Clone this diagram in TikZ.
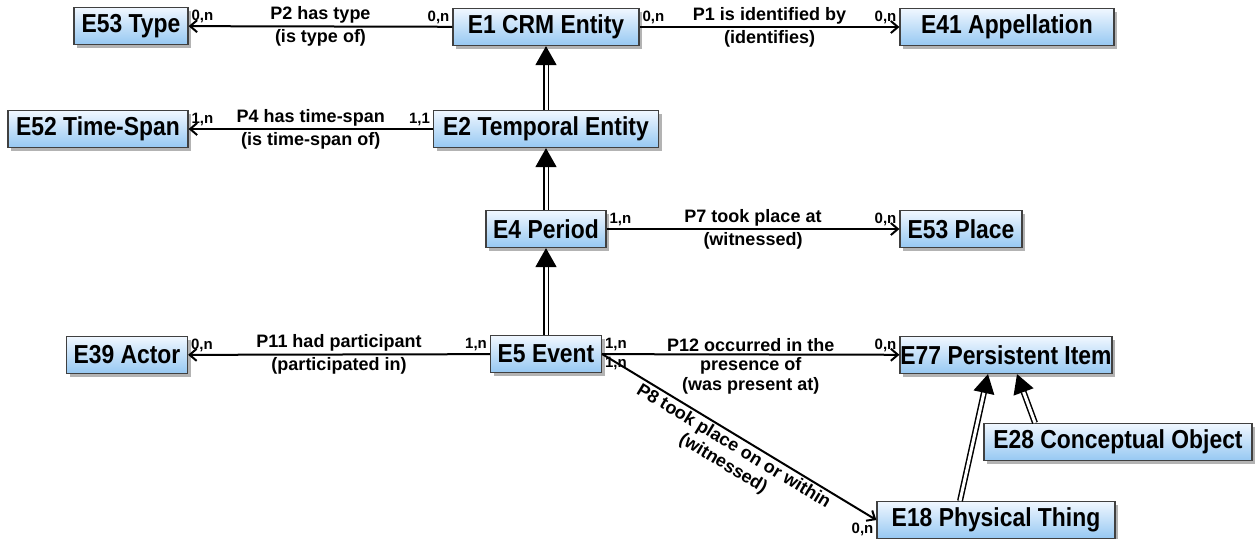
\documentclass[tikz,border=0pt]{standalone}
\usepackage{fontspec}
\setmainfont{Liberation Sans}
\newfontfamily\clsfont[FakeStretch=0.88]{Liberation Sans}
\usetikzlibrary{arrows.meta}
\usetikzlibrary{shadows}
\definecolor{boxblue}{RGB}{150,200,242}
\definecolor{boxtop}{RGB}{240,247,255}

\begin{document}
\begin{tikzpicture}[x=0.5pt,y=-0.5pt,
		cls/.style = {draw=black!75, line width=0.6pt, top color=boxtop, bottom color=boxblue, drop shadow={shadow xshift=1.5pt,shadow yshift=-1.5pt,fill=black!50,opacity=0.6}, minimum height=18.5pt, inner sep=0pt, font=\clsfont\fontsize{13}{14}\selectfont\bfseries},
		rel/.style = {line width=1pt, -{Straight Barb[length=3.5pt,width=6pt]}},
		isa/.style = {double, double distance=1.5pt, line width=0.75pt, -{Triangle[length=9.5pt,width=10.5pt]}},
		lbl/.style = {font=\fontsize{9}{10}\selectfont\bfseries, inner sep=1pt, align=center},
		card/.style = {font=\fontsize{7.5}{8}\selectfont\bfseries, inner sep=1pt}]
	\useasboundingbox (0,0) rectangle (1258,538);
	\begin{scope}[every node/.style={cls}]
		\node[minimum width=57pt] (type) at (131,26) {E53 Type};
		\node[minimum width=93pt] (crm) at (546,27) {E1 CRM Entity};
		\node[minimum width=107pt] (appel) at (1007,27) {E41 Appellation};
		\node[minimum width=90pt] (tspan) at (98,129) {E52 Time-Span};
		\node[minimum width=112.5pt] (temporal) at (546,129) {E2 Temporal Entity};
		\node[minimum width=60pt] (period) at (546,229) {E4 Period};
		\node[minimum width=61pt] (place) at (961,229) {E53 Place};
		\node[minimum width=60.5pt] (actor) at (127,355) {E39 Actor};
		\node[minimum width=55.5pt] (event) at (546,354) {E5 Event};
		\node[minimum width=106pt] (persist) at (1006,355) {E77 Persistent Item};
		\node[minimum width=134pt] (concept) at (1118,442) {E28 Conceptual Object};
		\node[minimum width=119pt] (physical) at (996,520) {E18 Physical Thing};
	\end{scope}
	% properties
	\draw[rel] (crm) -- node[lbl,above]{P2 has type} node[lbl,below]{(is type of)} (type)
		node[card,pos=0,above left]{0,n} node[card,pos=1,above right]{0,n};
	\draw[rel] (crm) -- node[lbl,above]{P1 is identified by} node[lbl,below]{(identifies)} (appel)
		node[card,pos=0,above right]{0,n} node[card,pos=1,above left]{0,n};
	\draw[rel] (temporal) -- node[lbl,above]{P4 has time-span} node[lbl,below]{(is time-span of)} (tspan)
		node[card,pos=0,above left]{1,1} node[card,pos=1,above right]{1,n};
	\draw[rel] (period) -- node[lbl,above]{P7 took place at} node[lbl,below]{(witnessed)} (place)
		node[card,pos=0,above right]{1,n} node[card,pos=1,above left]{0,n};
	\draw[rel] (event) -- node[lbl,above]{P11 had participant} node[lbl,below]{(participated in)} (actor)
		node[card,pos=0,above left]{1,n} node[card,pos=1,above right]{0,n};
	\draw[rel] (event) -- node[lbl,above]{P12 occurred in the} node[lbl,below]{presence of\\(was present at)} (persist)
		node[card,pos=0,above right]{1,n} node[card,pos=1,above left]{0,n};
	\draw[rel] (event.east) -- node[lbl,sloped,below]{P8 took place on or within\\(witnessed)} (physical.west)
		node[card,pos=0,below right]{1,n} node[card,pos=1,below left]{0,n};
	% subclasses
	\draw[isa] (temporal) -- (crm);
	\draw[isa] (period) -- (temporal);
	\draw[isa] (event) -- (period);
	\draw[isa] ([xshift=-18pt]physical.north) -- ([xshift=-9pt]persist.south);
	\draw[isa] ([xshift=-41.5pt]concept.north) -- ([xshift=5.5pt]persist.south);
\end{tikzpicture}
\end{document}
